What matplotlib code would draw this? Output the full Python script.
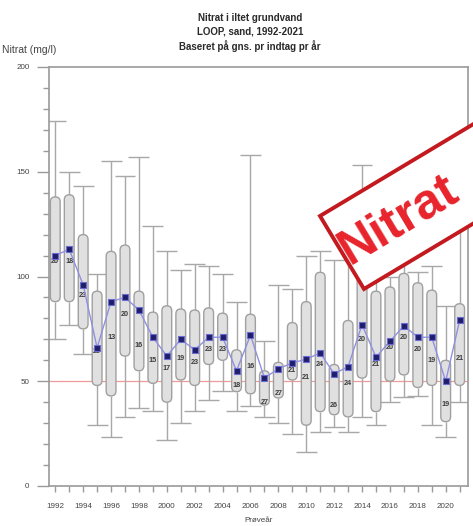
import matplotlib
matplotlib.use("Agg")
import matplotlib.pyplot as plt
import matplotlib.ticker as mticker
from matplotlib.patches import FancyBboxPatch, Polygon

plt.rcParams["font.family"] = ["Liberation Sans", "DejaVu Sans"]

# values (mg/l)
years = list(range(1992, 2022))
whisker_hi = [174, 150, 143, 101, 155, 148, 157, 124, 112, 103, 106, 105, 101, 88, 158,
              69, 96, 94, 110, 112, 108, 115, 153, 110, 100, 115, 102, 105, 86, 140]
box_hi = [138, 139, 120, 93, 112, 115, 93, 83, 86, 84.5, 84, 85, 82.5, 65, 82,
          55, 59, 78, 88, 102, 58, 79, 100, 93, 95, 101.5, 97, 93.5, 60, 87]
means = [110, 113, 96, 66, 88, 90, 84, 71, 62, 70, 65, 71, 71, 55, 72,
         51.5, 56, 58.7, 60.6, 63.5, 53.5, 57, 77, 61.5, 69, 76.5, 71, 71, 50, 79]
medians = [107, 107, 91, 64, 71, 82, 67, 60, 56, 61, 59, 65, 65, 48, 57,
           40, 44, 55, 52, 58, 38.6, 49, 70, 58, 66, 71, 65, 60, 39, 61]
box_lo = [88, 88, 75, 48, 43, 62, 55, 49, 40, 50.6, 48, 58, 60, 45, 44,
          38.6, 42, 50.6, 29, 35.5, 34, 33, 51.5, 35.5, 50, 53, 47, 48, 30.7, 48]
whisker_lo = [70, 77, 63, 29, 23.5, 33, 37, 36, 22, 30, 36, 41, 45.5, 36, 38,
              33, 30, 25, 16, 26, 28, 26, 33, 29, 40, 42.6, 43, 29, 23.5, 40]
n_labels = ["20", "18", "23", "20", "13", "20", "16", "15", "17", "19", "23", "23", "23", "18", "16",
            "27", "27", "21", "21", "24", "26", "24", "20", "21", "20", "20", "20", "19", "19", "21"]
limit = 50

W, H = 473, 526
fig = plt.figure(figsize=(W / 100, H / 100), dpi=100)
ax = fig.add_axes([49 / W, 1 - 486 / H, 419 / W, 419 / H])
ax.set_xlim(1991.55, 2021.6)
ax.set_ylim(0, 200)

# data units per pixel, for round box ends
aspect = (200 / 419) / (30.05 / 419)
bw = 0.7
grey = "#a8a8a8"

ax.axhline(limit, color="#f29a9a", lw=0.9, zorder=1)

for i, yr in enumerate(years):
    ax.vlines(yr, box_hi[i], whisker_hi[i], color=grey, lw=1, zorder=2)
    ax.vlines(yr, whisker_lo[i], box_lo[i], color=grey, lw=1, zorder=2)
    ax.hlines([whisker_hi[i], whisker_lo[i]], yr - 0.75, yr + 0.75, color=grey, lw=1, zorder=2)
    box = FancyBboxPatch((yr - bw / 2, box_lo[i]), bw, box_hi[i] - box_lo[i],
                         boxstyle="round,pad=0,rounding_size=%.2f" % (bw / 2),
                         mutation_aspect=aspect, fc="#e0e0e0", ec="#a0a0a0", lw=1, zorder=3)
    ax.add_patch(box)
    ax.text(yr, medians[i], n_labels[i], ha="center", va="center", fontsize=5.2,
            fontweight="bold", color="#3c3c3c", zorder=4)

ax.plot(years, means, color="#9090e0", lw=1, zorder=5)
ax.plot(years, means, "s", ms=4, mfc="#1e1e6a", mec="#6a6ad0", mew=0.8, zorder=6)

for s in ax.spines.values():
    s.set_color("#9a9a9a")
    s.set_linewidth(1.2)

ax.yaxis.set_major_locator(mticker.MultipleLocator(50))
ax.yaxis.set_minor_locator(mticker.MultipleLocator(10))
ax.xaxis.set_major_locator(mticker.FixedLocator(years[::2]))
ax.xaxis.set_minor_locator(mticker.FixedLocator(years))
ax.tick_params(axis="y", which="major", length=9, width=1, color="#9a9a9a",
               labelsize=5.8, labelcolor="#444444", pad=5)
ax.tick_params(axis="y", which="minor", length=4.5, width=1, color="#9a9a9a")
ax.tick_params(axis="x", which="both", length=4, width=1, color="#9a9a9a",
               labelsize=5.8, labelcolor="#444444", pad=8)
ax.set_xlabel("Prøveår", fontsize=5.8, color="#444444", labelpad=5)

fig.text(250 / W, 1 - 18 / H, "Nitrat i iltet grundvand", ha="center", va="center",
         fontsize=7, fontweight="bold", color="#2a2a2a")
fig.text(250 / W, 1 - 32 / H, "LOOP, sand, 1992-2021", ha="center", va="center",
         fontsize=7, fontweight="bold", color="#2a2a2a")
fig.text(250 / W, 1 - 46 / H, "Baseret på gns. pr indtag pr år", ha="center", va="center",
         fontsize=7, fontweight="bold", color="#2a2a2a")
fig.text(2 / W, 1 - 50 / H, "Nitrat (mg/l)", ha="left", va="center",
         fontsize=7.5, color="#444444")

# red stamp in the upper right corner
def px(x, y):
    return (x / W, 1 - y / H)

stamp = Polygon([px(320, 216), px(577, 62), px(621, 135), px(364, 289)],
                closed=True, transform=fig.transFigure, fc="white", ec="#c21a1f",
                lw=2.8, zorder=10, clip_on=False)
fig.patches.append(stamp)
fig.text(*px(343, 254), "Nitrat", rotation=31, rotation_mode="anchor", ha="left",
         va="center", fontsize=36, fontweight="bold", color="#e8232b", zorder=11)

fig.savefig("out.png", dpi=100)
